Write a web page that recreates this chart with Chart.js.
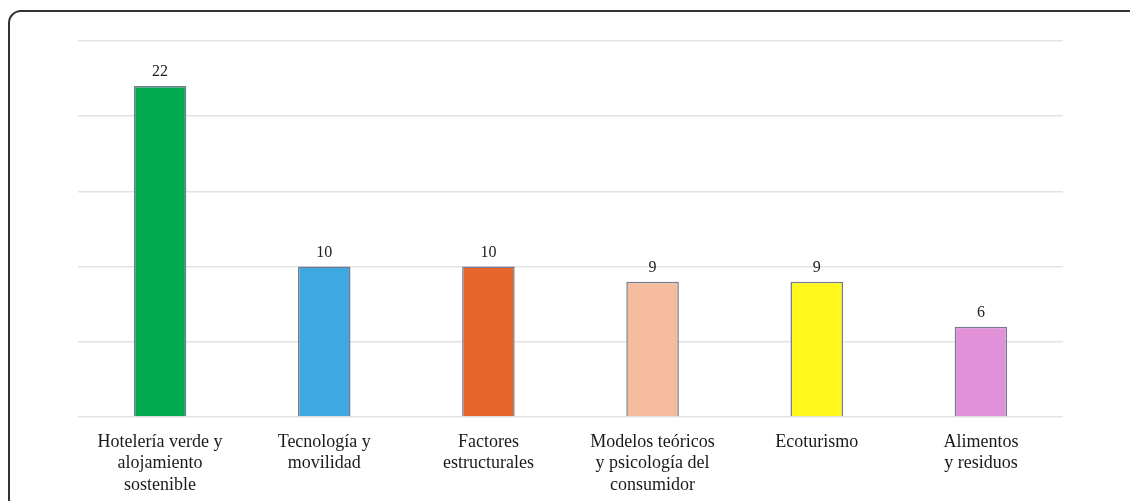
<!DOCTYPE html>
<html>
<head>
<meta charset="utf-8">
<script src="https://cdn.jsdelivr.net/npm/chart.js@4/dist/chart.umd.min.js"></script>
<style>
  html, body { margin: 0; padding: 0; background: #fff; overflow: hidden; }
  #frame {
    position: absolute; left: 8px; top: 10px; width: 1200px; height: 600px;
    border: 2px solid #333; border-radius: 13px; box-sizing: border-box;
  }
  #wrap { position: absolute; left: 0; top: 0; width: 1130px; height: 501px; }
</style>
</head>
<body>
<div id="frame"></div>
<div id="wrap"><canvas id="myChart"></canvas></div>
<script>
// categories and counts
const categories = [
    ['Hotelería verde y', 'alojamiento', 'sostenible'],
    ['Tecnología y', 'movilidad'],
    ['Factores', 'estructurales'],
    ['Modelos teóricos', 'y psicología del', 'consumidor'],
    ['Ecoturismo'],
    ['Alimentos', 'y residuos']
];
const counts = [22, 10, 10, 9, 9, 6];
const barColors = ['#00a84f', '#3da9e0', '#e8662b', '#f4bc9c', '#fff81a', '#e091d8'];

// draw the value above each bar
const valueLabels = {
    id: 'valueLabels',
    afterDatasetsDraw(chart) {
        const ctx = chart.ctx;
        const meta = chart.getDatasetMeta(0);
        ctx.save();
        ctx.font = '16px "Liberation Serif", serif';
        ctx.fillStyle = '#222';
        ctx.textAlign = 'center';
        ctx.textBaseline = 'bottom';
        meta.data.forEach((bar, i) => {
            ctx.fillText(counts[i], bar.x, bar.y - 6);
        });
        ctx.restore();
    }
};

const ctx = document.getElementById('myChart').getContext('2d');
const myChart = new Chart(ctx, {
    type: 'bar',
    data: {
        labels: categories,
        datasets: [{
            data: counts,
            backgroundColor: barColors,
            borderColor: '#757a93',
            borderWidth: 1.5,
            barPercentage: 0.32,
            categoryPercentage: 1
        }]
    },
    options: {
        responsive: true,
        maintainAspectRatio: false,
        animation: false,
        layout: { padding: { left: 78, right: 67, top: 41, bottom: 0 } },
        plugins: {
            legend: { display: false },
            tooltip: { enabled: false }
        },
        scales: {
            x: {
                grid: { display: false },
                border: { display: false },
                ticks: {
                    color: '#1a1a1a',
                    font: { family: '"Liberation Serif", serif', size: 18, lineHeight: 1.2 },
                    padding: 6,
                    maxRotation: 0,
                    autoSkip: false
                },
                afterFit: s => { s.height = 84; }
            },
            y: {
                min: 0,
                max: 25,
                ticks: { display: false, stepSize: 5 },
                grid: { color: '#e3e3e3', lineWidth: 1.5, drawTicks: false },
                border: { display: false },
                afterFit: s => { s.width = 0; }
            }
        }
    },
    plugins: [valueLabels]
});
</script>
</body>
</html>
